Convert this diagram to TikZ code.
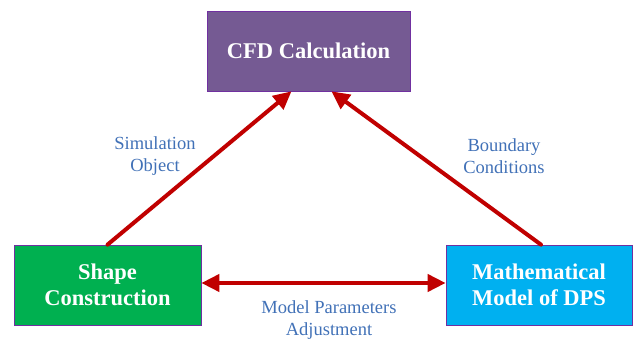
\documentclass[tikz,border=0pt]{standalone}
\usepackage{fontspec}
\setmainfont{Liberation Serif}
\usetikzlibrary{arrows.meta}
\definecolor{cfdpurple}{RGB}{117,90,147}
\definecolor{shapegreen}{RGB}{0,176,80}
\definecolor{mathblue}{RGB}{0,176,240}
\definecolor{edgepurple}{RGB}{112,48,160}
\definecolor{linkred}{RGB}{192,0,0}
\definecolor{tagblue}{RGB}{65,113,183}
\begin{document}
\begin{tikzpicture}[x=1pt,y=-1pt,
box/.style={draw=edgepurple, line width=0.7pt, minimum height=80pt, text=white,
  font=\bfseries\fontsize{22.5}{26}\selectfont, align=center},
link/.style={draw=linkred, line width=4pt, line cap=round,
  -{Triangle[length=18pt,width=17pt]}},
tag/.style={text=tagblue, font=\fontsize{18.5}{22}\selectfont, align=center}]
\useasboundingbox (0,0) rectangle (633,339);
\node[box, fill=cfdpurple, minimum width=203pt] (cfd) at (308.5,51) {CFD Calculation};
\node[box, fill=shapegreen, minimum width=187pt] (shape) at (107.5,285) {Shape\\Construction};
\node[box, fill=mathblue, minimum width=186pt] (math) at (539,285) {Mathematical\\Model of DPS};
\draw[link] (shape.north) -- ([xshift=-17pt]cfd.south);
\draw[link] ([xshift=2pt]math.north) -- ([xshift=23pt]cfd.south);
\draw[link, {Triangle[length=18pt,width=17pt]}-{Triangle[length=18pt,width=17pt]}]
  ([yshift=2pt]shape.east) -- ([yshift=2pt]math.west);
\node[tag] (simobj) at (155,156) {Simulation\\Object};
\node[tag] (bound) at (504,156) {Boundary\\Conditions};
\node[tag] (param) at (329,320) {Model Parameters\\Adjustment};
\end{tikzpicture}
\end{document}
